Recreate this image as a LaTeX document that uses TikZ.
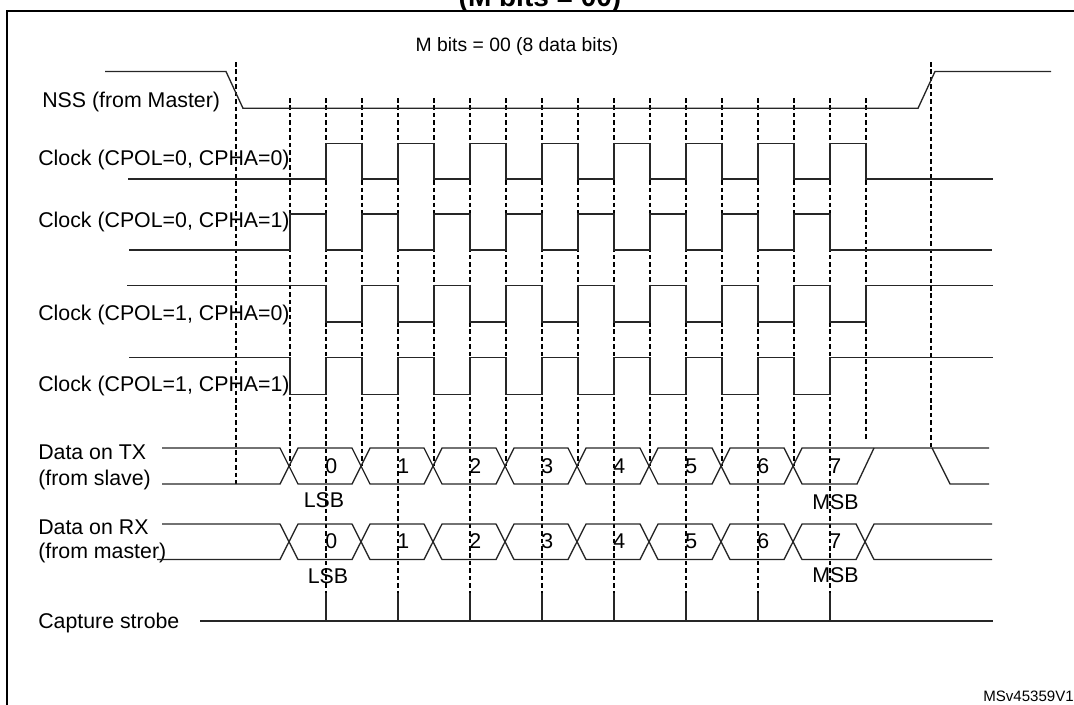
\documentclass[tikz,border=0pt]{standalone}
\usepackage{fontspec}
\setmainfont{Liberation Sans}
\begin{document}
\begin{tikzpicture}[x=0.75pt,y=-0.75pt,
  wave/.style={line width=1pt, line join=miter, draw=black!85},
  guide/.style={line width=0.8pt, dash pattern=on 3.4pt off 2.2pt},
  lbl/.style={anchor=base west, inner sep=0pt, font=\fontsize{16}{19}\selectfont},
  dig/.style={anchor=base west, inner sep=0pt, font=\fontsize{16}{19}\selectfont},
  sb/.style={anchor=base, inner sep=0pt, font=\fontsize{16}{19}\selectfont}]
\useasboundingbox (0,0) rectangle (1074,704);
\clip (0,0) rectangle (1074,704);
% frame and titles
\draw[line width=1.9pt] (7,720) -- (7,11) -- (1090,11);
\node[anchor=base, inner sep=0pt, font=\bfseries\fontsize{21}{24}\selectfont] (title) at (540,6) {(M bits = 00)};
\node[anchor=base, inner sep=0pt, font=\fontsize{14.5}{17}\selectfont] (mbits) at (517,51.5) {M bits = 00 (8 data bits)};
\node[anchor=base east, inner sep=0pt, font=\fontsize{11.3}{13}\selectfont] (ref) at (1074,701) {MSv45359V1};
% labels
\node[lbl] (lnss) at (42,107) {NSS (from Master)};
\node[lbl] (lc00) at (38,165.5) {Clock (CPOL=0, CPHA=0)};
\node[lbl] (lc01) at (38,227) {Clock (CPOL=0, CPHA=1)};
\node[lbl] (lc10) at (38,320.5) {Clock (CPOL=1, CPHA=0)};
\node[lbl] (lc11) at (38,391) {Clock (CPOL=1, CPHA=1)};
\node[lbl] (ltx1) at (38,459.3) {Data on TX};
\node[lbl] (ltx2) at (38,485) {(from slave)};
\node[lbl] (lrx1) at (38,534.3) {Data on RX};
\node[lbl] (lrx2) at (38,558.3) {(from master)};
\node[lbl] (lcap) at (38,628.3) {Capture strobe};
% guide lines
\draw[guide] (236,62) -- (236,484);
\draw[guide] (931,62) -- (931,448);
\draw[guide] (866,98) -- (866,440);
\foreach \k in {0,...,7} {
  \draw[guide] ({290+72*\k},98) -- ({290+72*\k},466);
  \draw[guide] ({326+72*\k},98) -- ({326+72*\k},593);
}
% NSS
\draw[wave] (105,71.5) -- (226,71.5) -- (243,108.3) -- (918,108.3) -- (935,71.5) -- (1051,71.5);
% clocks
\draw[wave] (128,179) foreach \k in {0,...,7} { -- ({326+72*\k},179) -- ({326+72*\k},143.3) -- ({362+72*\k},143.3) -- ({362+72*\k},179) } -- (993,179);
\draw[wave] (129,250) foreach \k in {0,...,7} { -- ({290+72*\k},250) -- ({290+72*\k},214) -- ({326+72*\k},214) -- ({326+72*\k},250) } -- (992,250);
\draw[wave] (127,285.7) foreach \k in {0,...,7} { -- ({326+72*\k},285.7) -- ({326+72*\k},322) -- ({362+72*\k},322) -- ({362+72*\k},285.7) } -- (993,285.7);
\draw[wave] (129,357.7) foreach \k in {0,...,7} { -- ({290+72*\k},357.7) -- ({290+72*\k},394.3) -- ({326+72*\k},394.3) -- ({326+72*\k},357.7) } -- (993,357.7);
% TX data
\draw[wave] (162,448) -- (280,448) -- (289,466) -- (280,484) -- (162,484);
\foreach \k in {0,...,6}
  \draw[wave] ({289+72*\k},466) -- ({298+72*\k},448) -- ({352+72*\k},448) -- ({361+72*\k},466) -- ({352+72*\k},484) -- ({298+72*\k},484) -- cycle;
\draw[wave] (793,466) -- (802,448) -- (989,448);
\draw[wave] (793,466) -- (802,484) -- (857,484) -- (874,448);
\draw[wave] (932,448) -- (950,484) -- (989,484);
% RX data
\draw[wave] (162,524) -- (280,524) -- (289,541.75) -- (280,559.5) -- (157,559.5);
\foreach \k in {0,...,7}
  \draw[wave] ({289+72*\k},541.75) -- ({298+72*\k},524) -- ({352+72*\k},524) -- ({361+72*\k},541.75) -- ({352+72*\k},559.5) -- ({298+72*\k},559.5) -- cycle;
\draw[wave] (865,541.75) -- (874,524) -- (992,524);
\draw[wave] (865,541.75) -- (874,559.5) -- (992,559.5);
% digits
\foreach \k in {0,...,7} {
  \node[dig] (tx\k) at ({325+72*\k},473.3) {\k};
  \node[dig] (rx\k) at ({325+72*\k},548.3) {\k};
}
\node[sb] (lsbtx) at (324,507.3) {LSB};
\node[sb] (lsbrx) at (328,583.3) {LSB};
\node[sb] (msbtx) at (835.5,509.3) {MSB};
\node[sb] (msbrx) at (835.5,582.7) {MSB};
% capture strobe
\draw[wave] (200,621) -- (993,621);
\foreach \k in {0,...,7}
  \draw[wave] ({326+72*\k},593) -- ({326+72*\k},621);
\end{tikzpicture}
\end{document}
